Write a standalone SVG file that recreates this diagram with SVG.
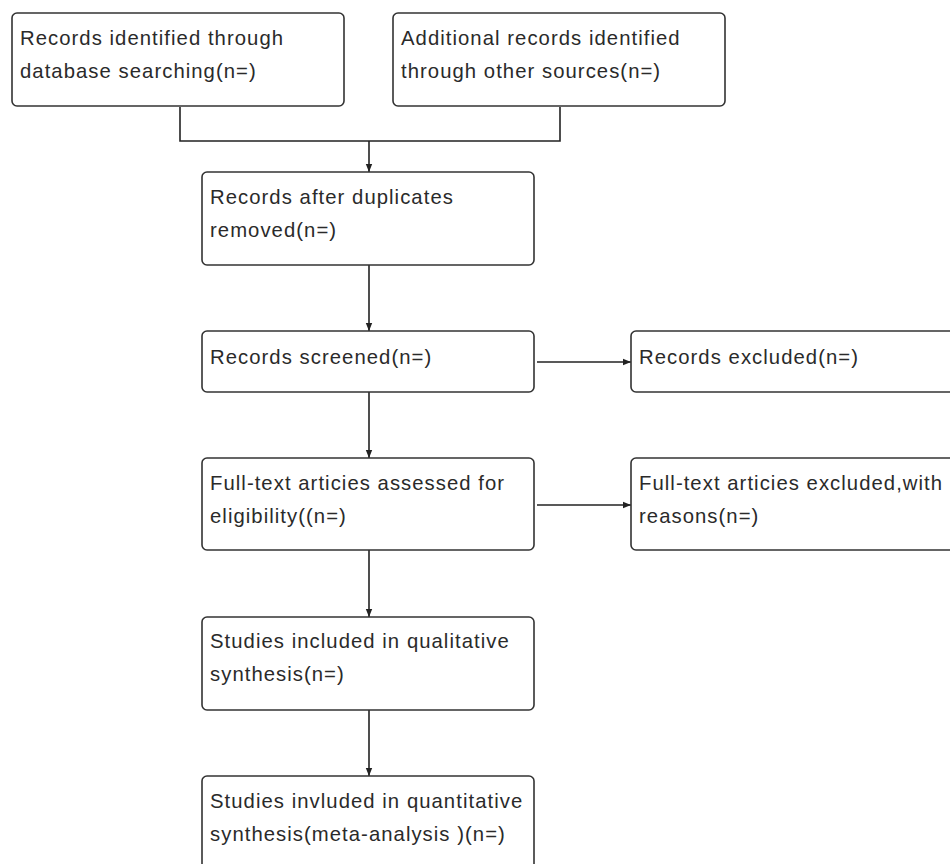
<svg xmlns="http://www.w3.org/2000/svg" width="950" height="864" viewBox="0 0 950 864">
<defs>
<style>
.box{fill:#fff;stroke:#333;stroke-width:1.6}
.t{font-family:"Liberation Sans",Arial,sans-serif;font-size:20.3px;letter-spacing:1.05px;fill:#2a2a2a}
.c{fill:none;stroke:#222;stroke-width:1.6}
</style>
<marker id="ah" viewBox="0 0 10 10" refX="10" refY="5" markerWidth="10" markerHeight="8" markerUnits="userSpaceOnUse" orient="auto">
<path d="M0,1 L10,5 L0,9 Z" fill="#222"/>
</marker>
</defs>
<rect width="950" height="864" fill="#fff"/>
<g id="connectors">
<path class="c" d="M180,107 V141 H560 V107"/>
<path class="c" d="M369,141 V172" marker-end="url(#ah)"/>
<path class="c" d="M369,265 V331" marker-end="url(#ah)"/>
<path class="c" d="M369,392 V458" marker-end="url(#ah)"/>
<path class="c" d="M369,550 V617" marker-end="url(#ah)"/>
<path class="c" d="M369,710 V776" marker-end="url(#ah)"/>
<path class="c" d="M537,362 H631" marker-end="url(#ah)"/>
<path class="c" d="M537,505 H631" marker-end="url(#ah)"/>
</g>
<g id="n1"><rect class="box" x="12" y="13" width="332" height="93" rx="5"/>
<text class="t" x="20" y="45">Records identified through</text><text class="t" x="20" y="78">database searching(n=)</text></g>
<g id="n2"><rect class="box" x="393" y="13" width="332" height="93" rx="5"/>
<text class="t" x="401" y="45">Additional records identified</text><text class="t" x="401" y="78">through other sources(n=)</text></g>
<g id="n3"><rect class="box" x="202" y="172" width="332" height="93" rx="5"/>
<text class="t" x="210" y="204">Records after duplicates</text><text class="t" x="210" y="237">removed(n=)</text></g>
<g id="n4"><rect class="box" x="202" y="331" width="332" height="61" rx="5"/>
<text class="t" x="210" y="364">Records screened(n=)</text></g>
<g id="n5"><rect class="box" x="631" y="331" width="340" height="61" rx="5"/>
<text class="t" x="639" y="364">Records excluded(n=)</text></g>
<g id="n6"><rect class="box" x="202" y="458" width="332" height="92" rx="5"/>
<text class="t" x="210" y="490">Full-text articies assessed for</text><text class="t" x="210" y="523">eligibility((n=)</text></g>
<g id="n7"><rect class="box" x="631" y="458" width="340" height="92" rx="5"/>
<text class="t" x="639" y="490">Full-text articies excluded,with</text><text class="t" x="639" y="523">reasons(n=)</text></g>
<g id="n8"><rect class="box" x="202" y="617" width="332" height="93" rx="5"/>
<text class="t" x="210" y="648">Studies included in qualitative</text><text class="t" x="210" y="681">synthesis(n=)</text></g>
<g id="n9"><rect class="box" x="202" y="776" width="332" height="110" rx="5"/>
<text class="t" x="210" y="808">Studies invluded in quantitative</text><text class="t" x="210" y="841">synthesis(meta-analysis )(n=)</text></g>
</svg>
